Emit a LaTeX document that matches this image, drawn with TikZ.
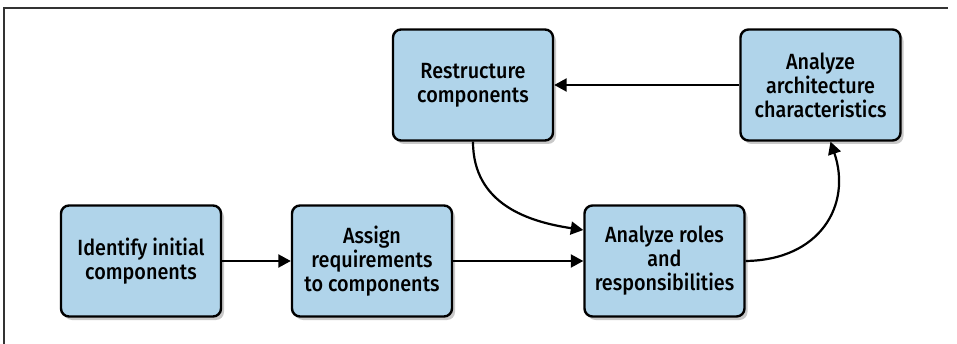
\documentclass[tikz,border=0pt]{standalone}
\usepackage{fontspec}
\setmainfont[FakeStretch=0.9]{Fira Sans Medium}
\usetikzlibrary{arrows.meta,shadows}
\definecolor{boxblue}{HTML}{B0D4EA}
\tikzset{
  stepbox/.style={draw=black, line width=2.4pt, fill=boxblue, rounded corners=8pt,
    minimum width=160pt, minimum height=111pt, align=center, inner sep=0pt,
    font=\fontsize{22}{24}\selectfont,
    drop shadow={shadow xshift=3pt, shadow yshift=-3.5pt, opacity=0.3, fill=black!70}},
  flow/.style={draw=black, line width=2.2pt, -{Triangle[length=12.5pt,width=13pt]}}
}
\begin{document}
\begin{tikzpicture}[x=1pt,y=-1pt]
\useasboundingbox (0,0) rectangle (957,344);
\draw[line width=1.3pt, black!80] (4,344) -- (4,8) -- (948,8);
\node[stepbox] (restr) at (473,85) {Restructure\\components};
\node[stepbox] (arch) at (820.5,85) {Analyze\\architecture\\characteristics};
\node[stepbox] (ident) at (141,261) {Identify initial\\components};
\node[stepbox] (assign) at (372,261) {Assign\\requirements\\to components};
\node[stepbox] (roles) at (664.5,261) {Analyze roles\\and\\responsibilities};
\coordinate (rolesin) at ([yshift=31pt]roles.west);
\coordinate (archin) at ([xshift=10pt]arch.south);
\draw[flow] (ident) -- (assign);
\draw[flow] (assign) -- (roles);
\draw[flow] (arch) -- (restr);
\draw[flow] (restr.south) .. controls (473,205) and (530,222) .. (rolesin);
\draw[flow] (roles.east) .. controls (820,260) and (852,205) .. (archin);
\end{tikzpicture}
\end{document}
